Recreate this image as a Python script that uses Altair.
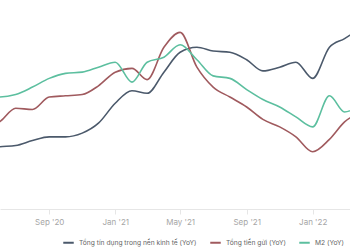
import altair as alt
import pandas as pd

months = ["2020-05-01", "2020-06-01", "2020-07-01", "2020-08-01", "2020-09-01",
          "2020-10-01", "2020-11-01", "2020-12-01", "2021-01-01", "2021-02-01",
          "2021-03-01", "2021-04-01", "2021-05-01", "2021-06-01", "2021-07-01",
          "2021-08-01", "2021-09-01", "2021-10-01", "2021-11-01", "2021-12-01",
          "2022-01-01", "2022-02-01", "2022-03-01", "2022-04-01"]

credit = [8.0, 8.2, 8.3, 8.7, 9.0, 9.0, 9.3, 10.1, 11.7, 12.7, 12.5, 14.2,
          15.8, 16.2, 15.9, 15.8, 15.2, 14.3, 14.6, 15.0, 13.7, 16.2, 16.9, 17.8]
deposit = [9.8, 10.2, 11.3, 11.2, 12.2, 12.3, 12.4, 13.1, 14.2, 14.5, 13.6, 16.2,
           17.4, 14.6, 13.0, 12.2, 11.4, 10.4, 9.8, 9.0, 7.8, 8.8, 10.2, 11.0]
m2 = [12.2, 12.2, 12.4, 13.0, 13.7, 14.1, 14.2, 14.6, 15.0, 13.4, 15.0, 15.4,
      16.4, 15.2, 13.9, 13.7, 12.8, 12.0, 11.4, 10.6, 9.8, 12.3, 11.0, 11.6]

series_names = ["Tổng tín dụng trong nền kinh tế (YoY)", "Tổng tiền gửi (YoY)", "M2 (YoY)"]
series_colors = ["#4b596b", "#a05a5e", "#5cbf9f"]

rows = []
for name, vals in zip(series_names, [credit, deposit, m2]):
    for m, v in zip(months, vals):
        rows.append({"month": m, "value": v, "series": name})
df = pd.DataFrame(rows)

tick_dates = [alt.DateTime(year=2020, month=9, date=1, utc=True),
              alt.DateTime(year=2021, month=1, date=1, utc=True),
              alt.DateTime(year=2021, month=5, date=1, utc=True),
              alt.DateTime(year=2021, month=9, date=1, utc=True),
              alt.DateTime(year=2022, month=1, date=1, utc=True)]

chart = alt.Chart(df).mark_line(interpolate="monotone", strokeWidth=1.6, clip=True).encode(
    x=alt.X("month:T", title=None,
            scale=alt.Scale(type="utc",
                            domain=[alt.DateTime(year=2020, month=6, date=2, utc=True),
                                    alt.DateTime(year=2022, month=3, date=11, utc=True)]),
            axis=alt.Axis(values=tick_dates, format="%b '%y", grid=False,
                          domainColor="#e6e6e6", tickColor="#e6e6e6", tickSize=5,
                          labelColor="#a6a6a6", labelFontSize=8, labelFont="Inter",
                          labelPadding=4)),
    y=alt.Y("value:Q", title=None, scale=alt.Scale(domain=[3.2, 20], nice=False, zero=False),
            axis=None),
    color=alt.Color("series:N", title=None,
                    scale=alt.Scale(domain=series_names, range=series_colors),
                    legend=alt.Legend(orient="none", legendX=62, legendY=236,
                                      direction="horizontal", symbolType="stroke",
                                      symbolSize=110, symbolStrokeWidth=2,
                                      labelFontSize=6.7, labelFont="Inter",
                                      labelColor="#666666", columnPadding=9,
                                      labelLimit=300))
).properties(width=350, height=209, padding=0,
             background="white").configure_view(stroke=None)

chart.save("out.html", embed_options={"renderer": "svg", "actions": False})
